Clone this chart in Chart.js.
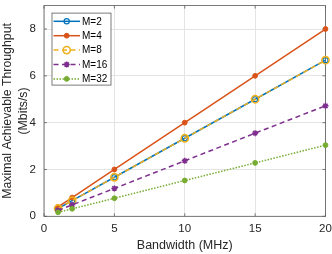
<!DOCTYPE html>
<html><head><meta charset="utf-8">
<script src="https://cdn.jsdelivr.net/npm/chart.js@4.4.1/dist/chart.umd.min.js"></script>
<style>html,body{margin:0;padding:0;background:#fff}#wrap{width:332px;height:254px;position:relative}</style>
</head><body><div id="wrap"><canvas id="c" width="332" height="254"></canvas></div>
<script>
// ---- data ----
const bandwidth = [1, 2, 5, 10, 15, 20];
const seriesNames = ['M=2', 'M=4', 'M=8', 'M=16', 'M=32'];
const m2  = [0.333, 0.667, 1.667, 3.333, 5.0, 6.667];
const m4  = [0.4, 0.8, 2.0, 4.0, 6.0, 8.0];
const m8  = [0.333, 0.667, 1.667, 3.333, 5.0, 6.667];
const m16 = [0.25, 0.49, 1.19, 2.37, 3.55, 4.72];
const m32 = [0.17, 0.32, 0.77, 1.53, 2.28, 3.04];
const xTicks = [0, 5, 10, 15, 20];
const yTicks = [0, 2, 4, 6, 8];
const xTitle = 'Bandwidth (MHz)';
const yTitle = ['Maximal Achievable Throughput', '(Mbits/s)'];

// ---- styles ----
const FONT = '"Liberation Sans", Arial, Helvetica, sans-serif';
const seriesValues = [m2, m4, m8, m16, m32];
const styles = [
  {color:'#0072BD', dash:[], point:'circle', r:2.6, fill:'rgba(0,0,0,0)', bw:1.2},
  {color:'#D95319', dash:[], point:'circle', r:2.4, fill:'#D95319', bw:1},
  {color:'#EDB120', dash:[5,3.5], point:'circle', r:3.6, fill:'rgba(0,0,0,0)', bw:1.6},
  {color:'#7E2F8E', dash:[5,3.5], point:'star', r:3, fill:'#7E2F8E', bw:1.5},
  {color:'#77AC30', dash:[1.5,1.5], point:'circle', r:2.4, fill:'#77AC30', bw:1}
];

const datasets = seriesNames.map((name, i) => ({
  label: name,
  data: bandwidth.map((b, j) => ({x: b, y: seriesValues[i][j]})),
  borderColor: styles[i].color,
  backgroundColor: styles[i].fill,
  borderWidth: 1.5,
  borderDash: styles[i].dash,
  pointStyle: styles[i].point,
  pointRadius: styles[i].r,
  pointBorderWidth: styles[i].bw,
  pointBorderColor: styles[i].color,
  pointBackgroundColor: styles[i].fill,
  tension: 0,
  fill: false,
  clip: false,
  order: seriesNames.length - i
}));

function drawMarker(ctx, st, x, y) {
  ctx.save();
  ctx.setLineDash([]);
  ctx.strokeStyle = st.color;
  ctx.fillStyle = st.fill;
  ctx.lineWidth = st.bw;
  if (st.point === 'circle') {
    ctx.beginPath(); ctx.arc(x, y, st.r, 0, Math.PI*2); ctx.fill(); ctx.stroke();
  } else {
    const r = st.r;
    ctx.beginPath();
    ctx.moveTo(x - r, y); ctx.lineTo(x + r, y);
    ctx.moveTo(x, y - r); ctx.lineTo(x, y + r);
    const d = r * Math.SQRT1_2;
    ctx.moveTo(x - d, y - d); ctx.lineTo(x + d, y + d);
    ctx.moveTo(x - d, y + d); ctx.lineTo(x + d, y - d);
    ctx.stroke();
  }
  ctx.restore();
}

function noPad(s) { s.paddingTop = 0; s.paddingBottom = 0; s.paddingLeft = 0; s.paddingRight = 0; }

const framePlugin = {
  id: 'frame',
  beforeDatasetsDraw(chart) {
    const {ctx, chartArea: a, scales} = chart;
    ctx.save();
    ctx.strokeStyle = '#5a5a5a';
    ctx.lineWidth = 0.8;
    ctx.strokeRect(a.left, a.top, a.right - a.left, a.bottom - a.top);
    const tl = 3;
    ctx.beginPath();
    xTicks.forEach(v => {
      const px = scales.x.getPixelForValue(v);
      ctx.moveTo(px, a.bottom); ctx.lineTo(px, a.bottom - tl);
      ctx.moveTo(px, a.top); ctx.lineTo(px, a.top + tl);
    });
    yTicks.forEach(v => {
      const py = scales.y.getPixelForValue(v);
      ctx.moveTo(a.left, py); ctx.lineTo(a.left + tl, py);
      ctx.moveTo(a.right, py); ctx.lineTo(a.right - tl, py);
    });
    ctx.stroke();
    ctx.restore();
  },
  afterDraw(chart) {
    const {ctx, chartArea: a} = chart;
    const bx = a.left + 8, by = a.top + 7.5, bw = 59, bh = 72;
    ctx.save();
    ctx.fillStyle = '#fff';
    ctx.fillRect(bx, by, bw, bh);
    ctx.strokeStyle = '#5a5a5a';
    ctx.lineWidth = 0.8;
    ctx.strokeRect(bx, by, bw, bh);
    ctx.font = '10px ' + FONT;
    ctx.textBaseline = 'middle';
    ctx.textAlign = 'left';
    seriesNames.forEach((name, i) => {
      const st = styles[i];
      const y = by + 8.2 + i * 14.4;
      ctx.save();
      ctx.strokeStyle = st.color;
      ctx.lineWidth = 1.5;
      ctx.setLineDash(st.dash);
      ctx.beginPath(); ctx.moveTo(bx + 1.5, y); ctx.lineTo(bx + 28, y); ctx.stroke();
      ctx.restore();
      drawMarker(ctx, st, bx + 14.7, y);
      ctx.fillStyle = '#000';
      ctx.fillText(name, bx + 30, y + 0.5);
    });
    ctx.restore();
  }
};

new Chart(document.getElementById('c'), {
  type: 'line',
  data: {datasets},
  options: {
    responsive: false,
    animation: false,
    events: [],
    layout: {padding: {top: 0.5, right: 6.5, left: 0, bottom: 0}},
    plugins: {legend: {display: false}, tooltip: {enabled: false}},
    scales: {
      x: {
        type: 'linear', min: 0, max: 20,
        afterBuildTicks: s => { s.ticks = xTicks.map(v => ({value: v})); },
        afterFit: s => { s.height = 37.7; noPad(s); },
        grid: {color: '#e4e4e4', lineWidth: 1, drawTicks: false},
        border: {display: false},
        ticks: {font: {family: FONT, size: 11.5}, color: '#262626', padding: 6, maxRotation: 0},
        title: {display: true, text: xTitle, font: {family: FONT, size: 12.5, lineHeight: 1.2}, color: '#262626', padding: {top: 0, bottom: 0.5}}
      },
      y: {
        type: 'linear', min: 0, max: 9,
        afterBuildTicks: s => { s.ticks = yTicks.map(v => ({value: v})); },
        afterFit: s => { s.width = 44; noPad(s); },
        grid: {color: '#e4e4e4', lineWidth: 1, drawTicks: false},
        border: {display: false},
        ticks: {font: {family: FONT, size: 11.5}, color: '#262626', padding: 8},
        title: {display: true, text: yTitle, font: {family: FONT, size: 12.3, lineHeight: 1.3}, color: '#262626', padding: {top: 0, bottom: 0}}
      }
    }
  },
  plugins: [framePlugin]
});
</script>
</body></html>
